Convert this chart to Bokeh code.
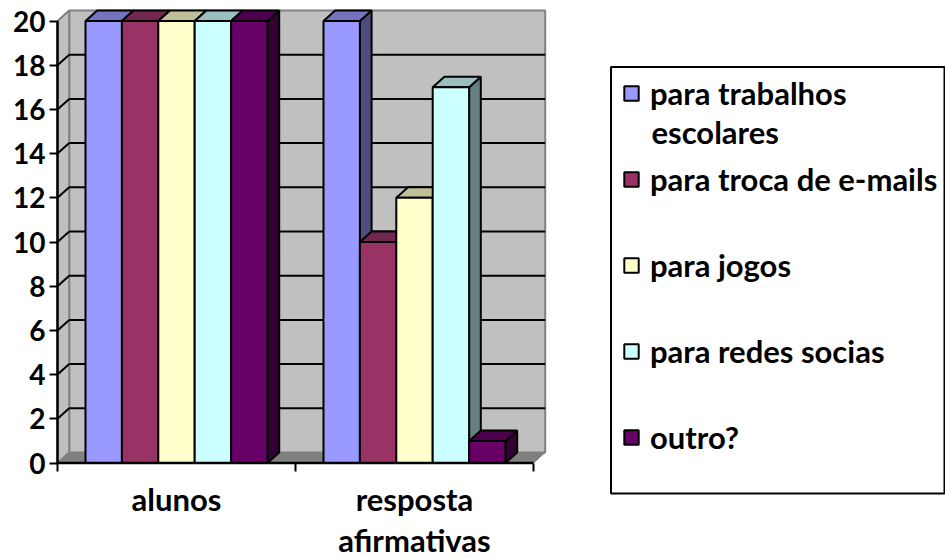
from bokeh.plotting import figure
from bokeh.models import Range1d, FixedTicker, Legend, LegendItem, BoxAnnotation, Label
from bokeh.embed import file_html
from bokeh.resources import INLINE

categories = ["alunos", "resposta\nafirmativas"]
series_names = ["para trabalhos", "para troca de e-mails", "para jogos", "para redes socias", "outro?"]
first_name_line2 = "escolares"
trabalhos = [20, 20]
emails = [20, 10]
jogos = [20, 12]
redes = [20, 17]
outro = [20, 1]
series_values = [trabalhos, emails, jogos, redes, outro]
front_colors = ["#9999ff", "#993366", "#ffffcc", "#ccffff", "#660066"]
top_colors = ["#7373bf", "#732650", "#bfbf99", "#99bfbf", "#4d004d"]
side_colors = ["#4d4d80", "#4d1a33", "#808066", "#668080", "#330033"]
y_ticks = list(range(0, 21, 2))

W, H = 945, 559
ORIGIN_X, ORIGIN_Y = 57.0, 462.5
PX_X, PX_Y = 238.0, 22.1
DX, DY = 11.7 / PX_X, 10.5 / PX_Y
BAR_W = 36.4 / PX_X
n_cat = len(categories)
n_ser = len(series_values)
GROUP_OFF = (1 - n_ser * BAR_W) / 2
FONT = "Lato"


def data_x(px):
    return (px - ORIGIN_X) / PX_X


def data_y(py):
    return (ORIGIN_Y - py) / PX_Y


p = figure(width=W, height=H, output_backend="svg", toolbar_location=None,
           x_range=Range1d(data_x(0), data_x(W)), y_range=Range1d(data_y(H), data_y(0)),
           min_border_left=0, min_border_right=0, min_border_top=0, min_border_bottom=0)
p.grid.visible = False
p.outline_line_color = None

# walls and floor
wall_kw = dict(line_color="#808080", line_width=2)
p.patch([DX, n_cat + DX, n_cat + DX, DX], [DY, DY, y_ticks[-1] + DY, y_ticks[-1] + DY], fill_color="#c0c0c0", **wall_kw)
p.patch([0, DX, DX, 0], [0, DY, y_ticks[-1] + DY, y_ticks[-1]], fill_color="#c0c0c0", **wall_kw)
p.patch([0, n_cat, n_cat + DX, DX], [0, 0, DY, DY], fill_color="#808080", line_color="#808080", line_width=1)

# gridlines on the walls
grid = y_ticks[1:-1]
p.segment([DX] * len(grid), [g + DY for g in grid], [n_cat + DX] * len(grid), [g + DY for g in grid],
          line_color="black", line_width=2)
p.segment([0] * len(grid), grid, [DX] * len(grid), [g + DY for g in grid], line_color="black", line_width=2)

# bars
items = []
for s, (vals, name) in enumerate(zip(series_values, series_names)):
    lefts = [c + GROUP_OFF + s * BAR_W for c in range(n_cat)]
    rights = [l + BAR_W for l in lefts]
    xs_side = [[r, r + DX, r + DX, r] for r in rights]
    ys_side = [[0, DY, v + DY, v] for v in vals]
    xs_top = [[l, r, r + DX, l + DX] for l, r in zip(lefts, rights)]
    ys_top = [[v, v, v + DY, v + DY] for v in vals]
    p.patches(xs_side, ys_side, fill_color=side_colors[s], line_color="black", line_width=2)
    p.patches(xs_top, ys_top, fill_color=top_colors[s], line_color="black", line_width=2)
    r = p.vbar(x=[(l + ri) / 2 for l, ri in zip(lefts, rights)], top=vals, bottom=0, width=BAR_W,
               fill_color=front_colors[s], line_color="black", line_width=2)
    items.append(LegendItem(label=name, renderers=[r]))

# axis lines in the front plane
p.segment([0, 0], [0, 0], [n_cat, 0], [0, y_ticks[-1]], line_color="black", line_width=2.5)

# axes, pinned to the front plane
p.yaxis.fixed_location = 0
p.yaxis.ticker = FixedTicker(ticks=y_ticks)
p.yaxis.axis_line_color = None
p.yaxis.major_tick_line_color = "black"
p.yaxis.major_tick_line_width = 2
p.yaxis.major_tick_out = 8
p.yaxis.major_tick_in = 0
p.yaxis.minor_tick_line_color = None
p.yaxis.major_label_standoff = 4
p.yaxis.major_label_text_font = FONT
p.yaxis.major_label_text_font_style = "bold"
p.yaxis.major_label_text_font_size = "28px"
p.yaxis.major_label_text_color = "black"

p.xaxis.fixed_location = 0
p.xaxis.ticker = FixedTicker(ticks=[c + 0.5 for c in range(n_cat)], minor_ticks=list(range(n_cat + 1)))
p.xaxis.major_label_overrides = {c + 0.5: categories[c] for c in range(n_cat)}
p.xaxis.axis_line_color = None
p.xaxis.major_tick_line_color = None
p.xaxis.major_tick_out = 8
p.xaxis.major_tick_in = 0
p.xaxis.minor_tick_line_color = "black"
p.xaxis.minor_tick_line_width = 2
p.xaxis.minor_tick_out = 8
p.xaxis.minor_tick_in = 0
p.xaxis.major_label_standoff = 9
p.xaxis.major_label_text_font = FONT
p.xaxis.major_label_text_font_style = "bold"
p.xaxis.major_label_text_font_size = "31px"
p.xaxis.major_label_text_line_height = 1.08
p.xaxis.major_label_text_color = "black"

# legend frame, legend, wrapped second line of first entry
p.add_layout(BoxAnnotation(left=data_x(610.5), right=data_x(944), top=data_y(66.5), bottom=data_y(493),
                           fill_color=None, line_color="black", line_alpha=1, line_width=2))
legend = Legend(items=items, location=(622, 103), orientation="vertical",
                glyph_width=18, glyph_height=18, label_standoff=10, spacing=48, padding=10, margin=0,
                label_text_font=FONT, label_text_font_style="bold", label_text_font_size="31px",
                label_text_color="black", border_line_color=None, background_fill_alpha=0)
p.add_layout(legend, "center")
p.add_layout(Label(x=data_x(651), y=data_y(131), text=first_name_line2, text_font=FONT, text_font_style="bold",
                   text_font_size="31px", text_baseline="middle", text_color="black"))

open("out.html", "w").write(file_html(p, INLINE))
